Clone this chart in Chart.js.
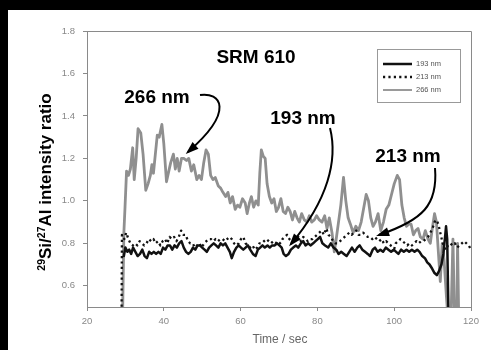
<!DOCTYPE html>
<html>
<head>
<meta charset="utf-8">
<script src="https://cdn.jsdelivr.net/npm/chart.js@4.4.1/dist/chart.umd.min.js"></script>
<style>
  html, body { margin: 0; padding: 0; background: #000; }
  #wrap { position: absolute; left: 8px; top: 10px; width: 483px; height: 340px; background: #fff; }
</style>
</head>
<body>
<div id="wrap"><canvas id="chart" width="483" height="340"></canvas></div>
<script>
// x ticks and y ticks
const xTicks = [20, 40, 60, 80, 100, 120];
const yTicks = [0.6, 0.8, 1.0, 1.2, 1.4, 1.6, 1.8];

// 193 nm
const t193 = [29.6, 30.0, 30.5, 31.0, 31.5, 32.0, 32.6, 33.2, 33.8, 34.4, 35.0, 35.6, 36.2, 36.8, 37.4, 38.0, 38.6, 39.2, 39.8,
  40.4, 41.0, 41.6, 42.2, 42.8, 43.4, 44.0, 44.6, 45.2, 45.8, 46.4, 47.0, 47.6, 48.2, 48.8, 49.4, 50.0, 50.6, 51.2, 51.8,
  52.4, 53.0, 53.6, 54.2, 54.8, 55.4, 56.0, 56.6, 57.2, 57.7, 58.3, 58.9, 59.5, 60.1, 60.7, 61.3, 61.9, 62.5, 63.2, 63.9,
  64.5, 65.1, 65.7, 66.3, 67.0, 67.6, 68.2, 68.9, 69.5, 70.1, 70.7, 71.2, 71.8, 72.5, 73.1, 73.7, 74.4, 75.0, 75.7, 76.3,
  76.9, 77.6, 78.2, 78.9, 79.5, 80.1, 80.7, 81.3, 82.0, 82.8, 83.5, 84.2, 84.9, 85.5, 86.2, 86.9, 87.6, 88.3, 89.0, 89.7,
  90.4, 91.0, 91.7, 92.4, 93.1, 93.7, 94.4, 95.0, 95.7, 96.4, 97.1, 97.8, 98.5, 99.2, 99.9, 100.5, 101.1, 101.8, 102.5, 103.2,
  103.9, 104.6, 105.3, 106.0, 106.6, 107.3, 108.0, 108.6, 109.2, 109.9, 110.5, 111.1, 111.7, 112.3, 112.8, 113.3, 113.5, 113.8, 114.1, 114.4];
const v193 = [0.74, 0.78, 0.76, 0.77, 0.75, 0.78, 0.76, 0.74, 0.75, 0.77, 0.74, 0.73, 0.76, 0.75, 0.76, 0.75, 0.76, 0.75, 0.78,
  0.77, 0.79, 0.79, 0.77, 0.79, 0.78, 0.80, 0.81, 0.78, 0.76, 0.75, 0.76, 0.78, 0.77, 0.79, 0.79, 0.78, 0.77, 0.76, 0.78,
  0.79, 0.80, 0.79, 0.78, 0.80, 0.79, 0.80, 0.78, 0.76, 0.73, 0.76, 0.78, 0.79, 0.78, 0.77, 0.78, 0.79, 0.77, 0.75, 0.74,
  0.77, 0.78, 0.79, 0.78, 0.79, 0.78, 0.79, 0.79, 0.80, 0.79, 0.78, 0.75, 0.74, 0.75, 0.77, 0.78, 0.79, 0.78, 0.80, 0.81,
  0.79, 0.80, 0.79, 0.80, 0.81, 0.82, 0.83, 0.80, 0.79, 0.78, 0.80, 0.78, 0.77, 0.75, 0.76, 0.75, 0.74, 0.76, 0.78, 0.76,
  0.78, 0.79, 0.77, 0.76, 0.75, 0.74, 0.77, 0.78, 0.76, 0.77, 0.76, 0.78, 0.77, 0.76, 0.77, 0.76, 0.75, 0.77, 0.76, 0.77,
  0.76, 0.77, 0.76, 0.77, 0.76, 0.74, 0.73, 0.71, 0.70, 0.68, 0.66, 0.65, 0.67, 0.70, 0.75, 0.84, 0.88, 0.82, 0.50, 0.40];

// 213 nm
const t213 = [29.0, 29.1, 29.7, 30.2, 30.8, 31.3, 31.9, 32.5, 33.1, 33.7, 34.3, 34.9, 35.5, 36.1, 36.7, 37.3, 37.9, 38.5, 39.1, 39.7,
  40.3, 40.9, 41.5, 42.1, 42.7, 43.3, 43.9, 44.5, 45.1, 45.7, 46.3, 46.9, 47.5, 48.1, 48.7, 49.3, 49.9, 50.5, 51.1, 51.7,
  52.3, 52.9, 53.5, 54.1, 54.7, 55.3, 55.9, 56.5, 57.1, 57.7, 58.3, 58.9, 59.5, 60.1, 60.7, 61.3, 61.9, 62.5, 63.1, 63.7,
  64.3, 64.9, 65.5, 66.1, 66.7, 67.3, 67.9, 68.5, 69.1, 69.7, 70.3, 70.9, 71.5, 72.1, 72.7, 73.3, 73.9, 74.5, 75.1, 75.7,
  76.3, 76.9, 77.5, 78.1, 78.7, 79.3, 79.9, 80.5, 81.1, 81.7, 82.3, 82.9, 83.5, 84.1, 84.7, 85.3, 85.9, 86.5, 87.1, 87.7,
  88.3, 88.9, 89.5, 90.1, 90.7, 91.3, 91.9, 92.5, 93.1, 93.7, 94.3, 94.9, 95.5, 96.1, 96.7, 97.3, 97.9, 98.5, 99.1, 99.8,
  100.4, 101.0, 101.6, 102.2, 102.8, 103.4, 104.0, 104.6, 105.2, 105.8, 106.4, 107.0, 107.6, 108.2, 108.8, 109.4, 110.0, 110.5, 111.0, 111.5,
  112.0, 112.5, 113.0, 113.5, 114.0, 114.6, 115.2, 115.8, 116.4, 117.0, 117.6, 118.2, 118.8, 119.4, 120.0];
const v213 = [0.45, 0.84, 0.82, 0.85, 0.82, 0.80, 0.79, 0.80, 0.79, 0.81, 0.80, 0.79, 0.80, 0.82, 0.81, 0.82, 0.80, 0.81, 0.79, 0.81,
  0.82, 0.80, 0.83, 0.82, 0.83, 0.81, 0.83, 0.86, 0.84, 0.84, 0.81, 0.80, 0.80, 0.78, 0.79, 0.80, 0.78, 0.80, 0.81, 0.82,
  0.82, 0.81, 0.82, 0.81, 0.82, 0.82, 0.81, 0.82, 0.83, 0.82, 0.80, 0.79, 0.80, 0.82, 0.83, 0.80, 0.79, 0.78, 0.79, 0.77,
  0.78, 0.80, 0.80, 0.81, 0.82, 0.81, 0.80, 0.81, 0.80, 0.81, 0.80, 0.82, 0.83, 0.84, 0.82, 0.81, 0.82, 0.82, 0.83, 0.81,
  0.83, 0.82, 0.81, 0.82, 0.82, 0.83, 0.84, 0.85, 0.86, 0.84, 0.87, 0.84, 0.83, 0.81, 0.80, 0.80, 0.81, 0.82, 0.83, 0.84,
  0.85, 0.84, 0.85, 0.86, 0.84, 0.84, 0.85, 0.84, 0.83, 0.83, 0.82, 0.83, 0.82, 0.81, 0.82, 0.80, 0.81, 0.80, 0.79, 0.76,
  0.80, 0.81, 0.82, 0.81, 0.80, 0.79, 0.80, 0.79, 0.80, 0.81, 0.80, 0.81, 0.81, 0.82, 0.83, 0.85, 0.87, 0.90, 0.91, 0.89,
  0.85, 0.81, 0.78, 0.77, 0.79, 0.80, 0.79, 0.80, 0.78, 0.79, 0.80, 0.81, 0.80, 0.79, 0.77];

// 266 nm
const t266 = [29.3, 29.6, 29.9, 30.3, 30.8, 31.3, 31.9, 32.3, 32.8, 33.3, 34.0, 34.6, 35.3, 35.9, 36.5, 36.9, 37.3, 37.8, 38.3, 38.8,
  39.5, 40.0, 40.7, 41.3, 41.8, 42.5, 43.0, 43.5, 44.0, 44.6, 45.2, 45.9, 46.5, 47.2, 47.8, 48.6, 49.2, 49.8, 50.4, 51.0,
  51.6, 52.2, 52.8, 53.4, 54.2, 54.8, 55.4, 56.1, 56.7, 57.3, 57.9, 58.6, 59.2, 59.8, 60.5, 61.2, 61.7, 62.3, 62.8, 63.4,
  64.0, 64.6, 65.0, 65.4, 65.9, 66.4, 66.9, 67.5, 68.1, 68.7, 69.3, 69.9, 70.5, 71.1, 71.7, 72.3, 72.9, 73.5, 74.1, 74.7,
  75.3, 75.9, 76.6, 77.3, 77.9, 78.5, 79.2, 79.8, 80.5, 81.2, 81.9, 82.5, 83.1, 83.8, 84.4, 84.9, 85.5, 86.1, 86.8, 87.4,
  88.0, 88.6, 89.3, 90.0, 90.7, 91.4, 92.0, 92.7, 93.3, 93.9, 94.5, 95.1, 95.8, 96.5, 97.2, 97.9, 98.6, 99.3, 100.0, 100.8,
  101.4, 102.0, 102.6, 103.2, 103.8, 104.4, 105.0, 105.6, 106.2, 106.8, 107.5, 108.1, 108.8, 109.4, 110.0, 110.5, 111.0, 111.5, 112.0, 112.5,
  113.0, 113.6, 114.0, 114.8, 115.3, 115.7, 116.3, 116.5, 116.8];
const v266 = [0.50, 0.85, 0.97, 1.14, 1.12, 1.15, 1.25, 1.10, 1.20, 1.34, 1.32, 1.22, 1.05, 1.08, 1.12, 1.17, 1.13, 1.22, 1.31, 1.30,
  1.36, 1.27, 1.09, 1.14, 1.18, 1.22, 1.15, 1.20, 1.14, 1.20, 1.20, 1.19, 1.20, 1.14, 1.17, 1.10, 1.12, 1.10, 1.18, 1.24,
  1.22, 1.12, 1.10, 1.11, 1.07, 1.06, 1.04, 1.02, 1.04, 0.99, 1.02, 0.96, 0.98, 0.97, 1.01, 0.99, 0.94, 0.99, 1.02, 0.97,
  1.00, 0.98, 1.13, 1.24, 1.21, 1.20, 1.08, 1.02, 0.99, 1.01, 0.95, 0.97, 1.01, 0.95, 0.94, 0.97, 0.95, 0.91, 0.95, 0.92,
  0.90, 0.94, 0.91, 0.90, 0.93, 0.90, 0.91, 0.93, 0.91, 0.90, 0.93, 0.87, 0.92, 0.85, 0.76, 0.82, 0.90, 0.98, 1.11, 1.00,
  0.92, 0.89, 0.85, 0.88, 0.86, 0.90, 0.96, 1.03, 1.00, 0.92, 0.88, 0.90, 0.94, 0.86, 0.90, 0.96, 0.98, 1.03, 1.08, 1.12,
  1.10, 0.98, 0.92, 0.88, 0.89, 0.89, 0.84, 0.86, 0.87, 0.83, 0.82, 0.86, 0.82, 0.80, 0.88, 0.94, 0.90, 0.76, 0.62, 0.80,
  0.72, 0.55, 0.45, 0.45, 0.82, 0.45, 0.45, 0.80, 0.45];

function pts(ts, vs) {
  return ts.map((t, i) => ({ x: t, y: vs[i] }));
}

const GRAY = "#8f8f8f";
const AXIS = "#8a8a8a";
const FONT = "'Liberation Sans', Arial, sans-serif";
const BOLD = "bold 19px " + FONT;
const DOTS = [2.2, 3.2];

function arrow(ctx, x0, y0, c1x, c1y, c2x, c2y, x1, y1) {
  ctx.beginPath();
  ctx.moveTo(x0, y0);
  ctx.bezierCurveTo(c1x, c1y, c2x, c2y, x1, y1);
  ctx.stroke();
  const a = Math.atan2(y1 - c2y, x1 - c2x);
  const L = 10, W = 4.5;
  ctx.beginPath();
  ctx.moveTo(x1 + Math.cos(a) * 3, y1 + Math.sin(a) * 3);
  ctx.lineTo(x1 - Math.cos(a) * L + Math.sin(a) * W, y1 - Math.sin(a) * L - Math.cos(a) * W);
  ctx.lineTo(x1 - Math.cos(a) * L - Math.sin(a) * W, y1 - Math.sin(a) * L + Math.cos(a) * W);
  ctx.closePath();
  ctx.fill();
}

const extras = {
  id: "extras",
  afterDraw(chart) {
    const ctx = chart.ctx;
    const ca = chart.chartArea;
    ctx.save();
    // frame top/right
    ctx.strokeStyle = AXIS;
    ctx.lineWidth = 1;
    ctx.beginPath();
    ctx.moveTo(ca.left, ca.top + 0.5);
    ctx.lineTo(ca.right + 0.5, ca.top + 0.5);
    ctx.lineTo(ca.right + 0.5, ca.bottom);
    ctx.stroke();

    // legend
    ctx.strokeStyle = "#999";
    ctx.strokeRect(369.5, 39.5, 83, 53);
    const rows = [
      { y: 54, label: "193 nm", color: "#111", w: 2.5, dash: [] },
      { y: 67, label: "213 nm", color: "#111", w: 2.5, dash: DOTS },
      { y: 80, label: "266 nm", color: GRAY, w: 1.8, dash: [] }
    ];
    ctx.font = "7.5px " + FONT;
    ctx.textBaseline = "middle";
    ctx.textAlign = "left";
    rows.forEach(r => {
      ctx.strokeStyle = r.color;
      ctx.lineWidth = r.w;
      ctx.setLineDash(r.dash);
      ctx.beginPath();
      ctx.moveTo(375, r.y);
      ctx.lineTo(404, r.y);
      ctx.stroke();
      ctx.setLineDash([]);
      ctx.fillStyle = "#555";
      ctx.fillText(r.label, 408, r.y);
    });

    // annotations
    ctx.fillStyle = "#000";
    ctx.font = BOLD;
    ctx.textAlign = "center";
    ctx.textBaseline = "alphabetic";
    ctx.fillText("SRM 610", 248, 53);
    ctx.fillText("266 nm", 149, 93);
    ctx.fillText("193 nm", 295, 114);
    ctx.fillText("213 nm", 400, 152);

    ctx.strokeStyle = "#000";
    ctx.lineWidth = 2;
    arrow(ctx, 192, 85, 212, 82, 228, 100, 180, 142);
    arrow(ctx, 322, 118, 330, 150, 320, 190, 283, 234);
    arrow(ctx, 427, 158, 430, 195, 415, 210, 371, 225);

    // x title
    ctx.fillStyle = "#666";
    ctx.font = "12px " + FONT;
    ctx.textBaseline = "middle";
    ctx.fillText("Time / sec", 272, 330);

    // y title with superscripts
    ctx.translate(37, 172);
    ctx.rotate(-Math.PI / 2);
    const parts = [
      { s: "29", sup: true }, { s: "Si/", sup: false }, { s: "27", sup: true }, { s: "Al intensity ratio", sup: false }
    ];
    const big = "bold 17px " + FONT;
    const small = "bold 10.5px " + FONT;
    let total = 0;
    parts.forEach(p => { ctx.font = p.sup ? small : big; total += ctx.measureText(p.s).width; });
    let x = -total / 2;
    ctx.fillStyle = "#000";
    ctx.textAlign = "left";
    ctx.textBaseline = "alphabetic";
    parts.forEach(p => {
      ctx.font = p.sup ? small : big;
      ctx.fillText(p.s, x, p.sup ? 0 : 6);
      x += ctx.measureText(p.s).width;
    });
    ctx.restore();
  }
};

new Chart(document.getElementById("chart"), {
  type: "line",
  data: {
    datasets: [
      { label: "193 nm", data: pts(t193, v193), borderColor: "#111", borderWidth: 2.5 },
      { label: "213 nm", data: pts(t213, v213), borderColor: "#111", borderWidth: 2.3, borderDash: DOTS, borderCapStyle: "butt" },
      { label: "266 nm", data: pts(t266, v266), borderColor: GRAY, borderWidth: 2.8 }
    ]
  },
  options: {
    responsive: false,
    animation: false,
    events: [],
    layout: { padding: { top: 21, right: 20, left: 0, bottom: 0 } },
    elements: { point: { radius: 0 }, line: { tension: 0, borderJoinStyle: "round", borderCapStyle: "round" } },
    plugins: { legend: { display: false }, tooltip: { enabled: false } },
    scales: {
      x: {
        type: "linear",
        min: 20, max: 120,
        afterBuildTicks: s => { s.ticks = xTicks.map(v => ({ value: v })); },
        afterFit: s => { s.height = 43; },
        ticks: { color: "#888", font: { size: 9.5, family: FONT }, padding: 5, maxRotation: 0 },
        grid: { drawOnChartArea: false, drawTicks: true, tickLength: 4, color: AXIS },
        border: { color: AXIS, width: 1 }
      },
      y: {
        min: 0.5, max: 1.8,
        afterBuildTicks: s => { s.ticks = yTicks.map(v => ({ value: v })); },
        afterFit: s => { s.width = 79; },
        ticks: { color: "#888", font: { size: 9.5, family: FONT }, padding: 8, callback: v => v.toFixed(1) },
        grid: { drawOnChartArea: false, drawTicks: true, tickLength: 4, color: AXIS },
        border: { color: AXIS, width: 1 }
      }
    }
  },
  plugins: [extras]
});
</script>
</body>
</html>
